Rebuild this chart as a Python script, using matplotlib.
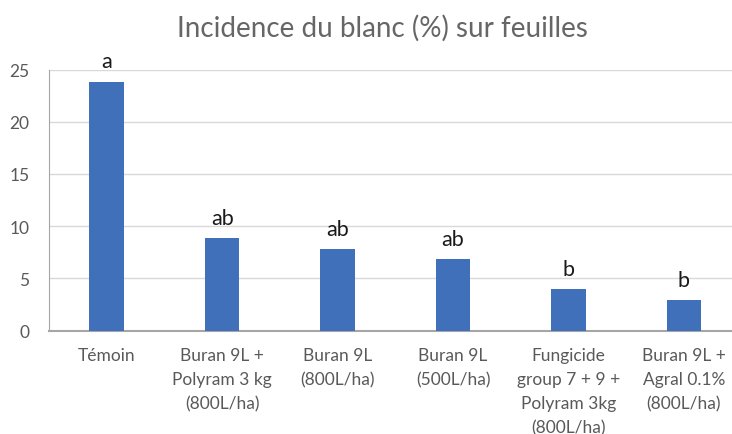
import numpy as np
import matplotlib.pyplot as plt

plt.rcParams['font.family'] = ['Lato', 'DejaVu Sans']

categories = ["Témoin", "Buran 9L +\nPolyram 3 kg\n(800L/ha)", "Buran 9L\n(800L/ha)",
              "Buran 9L\n(500L/ha)", "Fungicide\ngroup 7 + 9 +\nPolyram 3kg\n(800L/ha)",
              "Buran 9L +\nAgral 0.1%\n(800L/ha)"]
values = [23.85, 8.85, 7.8, 6.85, 3.95, 2.9]
letters = ["a", "ab", "ab", "ab", "b", "b"]

fig = plt.figure(figsize=(7.32, 4.35), dpi=100)
ax = fig.add_axes([49 / 732, 1 - 331.5 / 435, 692.7 / 732, 261 / 435])

x = np.arange(len(categories))
bars = ax.bar(x, values, width=0.30, color='#4070BA', zorder=3)

for xi, v, l in zip(x, values, letters):
    ax.text(xi, v + 1.0, l, ha='center', va='bottom', fontsize=15.5, color='#1a1a1a')

ax.set_xlim(-0.5, len(categories) - 0.5)
ax.set_ylim(0, 25)
ax.set_yticks([0, 5, 10, 15, 20, 25])
ax.grid(axis='y', color='#d9d9d9', linewidth=1, zorder=0)
ax.set_xticks(x)
ax.set_xticklabels(categories, fontsize=12.5, color='#595959', linespacing=1.62)
ax.tick_params(axis='y', labelsize=12.5, labelcolor='#595959', length=0, pad=14)
ax.tick_params(axis='x', length=0, pad=12)

for s in ['top', 'right']:
    ax.spines[s].set_visible(False)
ax.spines['left'].set_color('#a6a6a6')
ax.spines['bottom'].set_color('#a6a6a6')
ax.spines['bottom'].set_linewidth(1.5)

fig.text(382 / 732, 1 - 28 / 435, "Incidence du blanc (%) sur feuilles", ha='center', va='center',
         fontsize=20, color='#666666')

fig.savefig("out.png", dpi=100)
